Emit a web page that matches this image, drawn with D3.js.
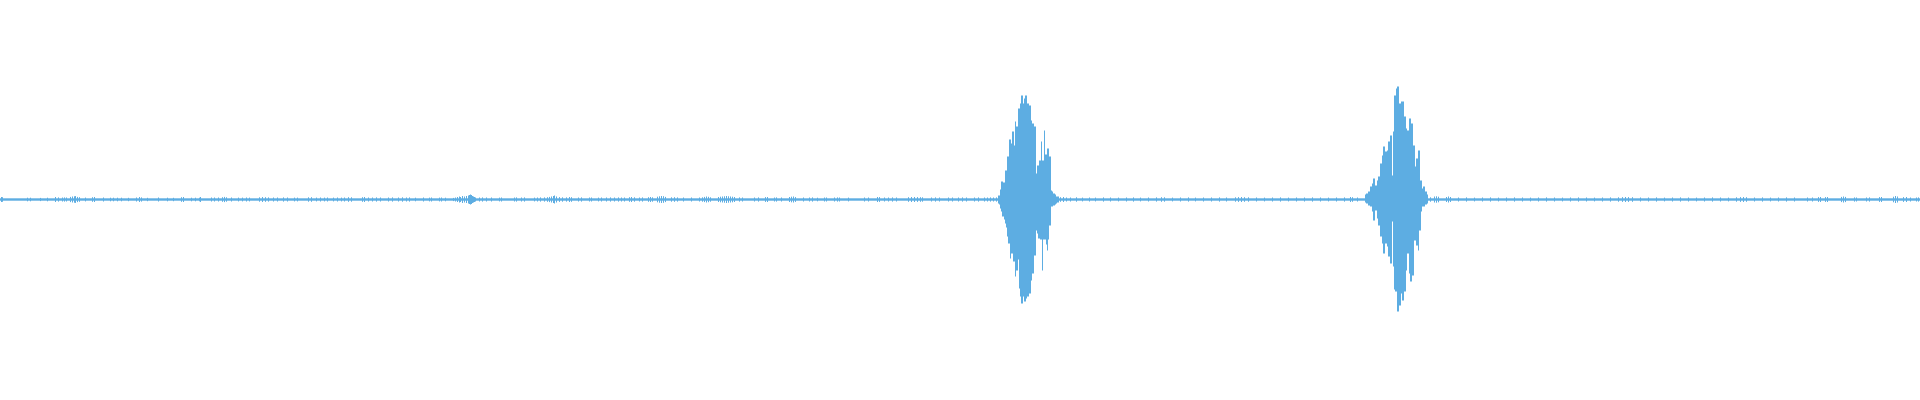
<!DOCTYPE html>
<html>
<head>
<meta charset="utf-8">
<script src="https://cdn.jsdelivr.net/npm/d3@7/dist/d3.min.js"></script>
<style>
html,body{margin:0;padding:0;background:#fff;overflow:hidden;}
svg{display:block;}
</style>
</head>
<body>
<svg id="chart" width="1920" height="400"></svg>
<script>
// ---- data (amplitude units: full scale = 200) ----
const columnCount = 1920;
const baselineAmp = 1.2;

const spikeX = [1,2,27,30,40,47,55,58,62,64,66,70,72,74,75,77,79,85,92,94,103,110,113,117,121,128,136,139,141,147,158,167,173,181,183,191,195,199,
200,211,214,218,222,224,226,231,238,242,246,249,259,262,265,268,273,277,283,287,294,297,308,311,316,320,324,327,333,337,341,344,348,351,362,364,368,372,376,380,388,392,398,402,406,409,415,
423,429,431,439,441,445,453,455,457,459,460,462,464,466,468,469,470,471,472,473,474,475,479,482,486,491,499,501,514,516,521,524,534,537,540,544,547,549,551,553,554,556,559,562,566,569,571,578,581,589,591,598,601,606,610,614,618,
621,624,629,631,634,639,642,648,650,652,657,659,661,663,665,671,674,677,683,691,699,702,704,706,708,710,718,720,722,724,726,728,730,732,734,739,742,754,758,765,767,774,776,781,789,791,793,795,803,809,812,817,
824,826,834,837,839,848,864,868,877,879,884,888,892,896,908,911,914,917,920,922,931,935,939,948,952,958,962,966,974,978,984,987,990,993,996,
1060,1063,1066,1070,1076,1082,1089,1095,1103,1110,1118,1126,1133,1140,1148,1156,1161,1164,1172,1180,1188,1195,1203,1211,1219,1226,1235,1238,1241,1244,1248,1256,1264,1272,1280,1288,1296,1304,1312,1320,1328,1336,1344,1350,1352,1357,
1430,1434,1436,1438,1446,1448,1450,1458,1466,1474,1482,1490,1498,1506,1514,1522,1530,1538,1546,1554,1562,1570,1578,1586,1594,1602,1610,1618,1622,1625,1628,1632,1640,1648,1656,1664,1672,1680,1688,1696,1704,1712,1720,1728,1736,1740,1743,1746,1754,1762,1770,1778,1786,1794,1807,1812,1818,1820,1825,1827,1841,1843,1845,1854,1856,1866,1869,1879,1881,1893,1895,1897,1903,1906,1910,1916,1918];
const spikeAmp = [2.5,2.3,1.8,1.8,1.6,1.8,2.5,2.1,2,2.1,2,2.6,3,3.2,3.4,2.6,2.3,1.9,2.3,2.5,2,1.8,1.8,1.8,1.8,1.7,2,2.5,2.1,1.7,2,1.8,1.7,2.3,2.5,1.8,1.8,1.8,
2.5,2,2,2,2.3,2.6,2.2,2,1.9,1.9,2,1.9,2.2,2.5,2.3,2.1,2,2,2.1,2,1.9,1.9,2.2,2.3,1.9,2,1.9,2,1.9,2,1.9,2,2.3,2.2,2.3,2.5,2,2,2.1,2,2,2.1,2,2.2,2,2.1,1.8,
2,1.9,2,1.9,2,1.8,1.6,2,2.5,3,2.5,3.5,3,3.5,4,4.5,5,4.5,3.5,3,2.5,2,2,2.1,2,2,1.9,2,2,2.1,2,2.1,1.9,2,2.1,2.1,2.3,2.6,3,3.5,4,3,2.4,2.2,2.1,2.5,2.3,2,2.1,2,2,1.9,2,2,2.1,2,2.1,
2,2,2.3,2.5,2.2,2,2.1,2.3,2.5,2.2,2.8,3.2,3.5,3.3,2.6,2.2,2.3,2.1,2,2,2,2.2,2.6,3,2.7,2.2,2.5,2.8,3,3.2,3.5,3.2,3,2.8,2.5,2.1,2,2,2.1,2.4,2.5,2,2.1,2,2.5,2.8,3,2.4,2,2,2.1,1.8,
2,2,2,2.1,2,1.9,2,2,2.5,2.4,2,2,2.1,2,2.3,2.5,2.5,2.4,2.3,2.2,2,2.1,2,2,2,2,2.1,2,2,2.1,2,2,2.1,2,2.1,
2.3,2.5,2,2,2.2,1.9,2,1.9,2.1,2,1.9,2,2.1,1.9,2,2.1,2.3,2.2,1.9,2,2.1,1.9,2,2,2.1,2,2.2,2.4,2.5,2.3,2.2,2,1.9,2,2.1,1.9,2,2,2.1,2,1.9,2,2.1,2.5,2.3,2,
2.2,3,3.2,2.8,2.5,3,2.5,2,2.1,1.9,2,2.1,1.9,2,2.1,2,1.9,2,2.1,2,1.9,2,2.1,2,1.9,2,2.1,2.2,2.4,2.5,2.4,2.3,2,2,2.1,1.9,2,2.1,2,1.9,2,2.1,2,1.9,2.2,2.4,2.5,2.3,2,2.1,1.9,2,2.1,2,2,2,2.4,2.5,2.4,2.5,2.6,3,2.6,2.1,2,2,2.1,2.4,2.5,2.8,3.5,3,2.4,2.5,2,2,2.1];

const burst1Start = 998;
const burst1Top = [4,4,10,18,18,17,17,29,29,43,43,60,60,56,68,68,54,78,73,73,91,91,96,104,104,96,101,104,104,96,96,94,94,79,76,76,73,73,26,34,34,39,39,58,39,39,69,45,45,51,51,43,43,9,8,6,6,5,3,3,3];
const burst1Bottom = [4,5,9,12,17,17,20,24,28,37,44,44,59,54,54,62,62,77,71,71,60,89,97,104,104,97,102,102,99,97,97,94,94,81,74,74,56,56,31,34,39,39,40,40,71,40,40,40,45,51,40,26,26,7,7,6,6,5,4,3,3];

const burst2Start = 1365;
const burst2Top = [5,6,6,8,8,13,13,16,21,21,14,14,19,23,23,36,36,44,53,53,48,48,49,58,58,64,64,24,68,104,104,111,113,113,96,96,98,98,98,83,83,71,69,69,81,81,76,76,54,54,33,41,41,49,49,19,19,11,13,13,8,8,5];
const burst2Bottom = [3,4,4,6,6,7,7,12,21,21,11,11,19,26,26,37,37,44,54,54,44,44,47,57,57,64,64,22,67,90,92,92,112,112,106,106,94,101,101,92,92,71,54,54,74,82,82,76,76,41,41,46,46,51,31,31,12,7,7,7,5,5,4];

const waveColor = "#5dade2";

// ---- build columns from data ----
const colTop = new Array(columnCount).fill(baselineAmp);
const colBottom = new Array(columnCount).fill(baselineAmp);
spikeX.forEach((sx, i) => {
  colTop[sx] = Math.max(colTop[sx], spikeAmp[i]);
  colBottom[sx] = Math.max(colBottom[sx], spikeAmp[i]);
});
[[burst1Start, burst1Top, burst1Bottom], [burst2Start, burst2Top, burst2Bottom]].forEach(([s, t, b]) => {
  t.forEach((v, i) => { colTop[s + i] = Math.max(colTop[s + i], v); });
  b.forEach((v, i) => { colBottom[s + i] = Math.max(colBottom[s + i], v); });
});
const columns = d3.range(columnCount).map(i => ({ i, max: colTop[i], min: -colBottom[i] }));

// ---- draw ----
const W = 1920, H = 400;
const svg = d3.select("#chart");
const xScale = d3.scaleLinear().domain([0, columnCount]).range([0, W]);
const yScale = d3.scaleLinear().domain([-200, 200]).range([H - 0.5, -0.5]);

svg.append("g")
  .selectAll("rect")
  .data(columns)
  .join("rect")
  .attr("x", d => xScale(d.i))
  .attr("width", xScale(1) - xScale(0))
  .attr("y", d => yScale(d.max))
  .attr("height", d => yScale(d.min) - yScale(d.max))
  .attr("fill", waveColor);
</script>
</body>
</html>
